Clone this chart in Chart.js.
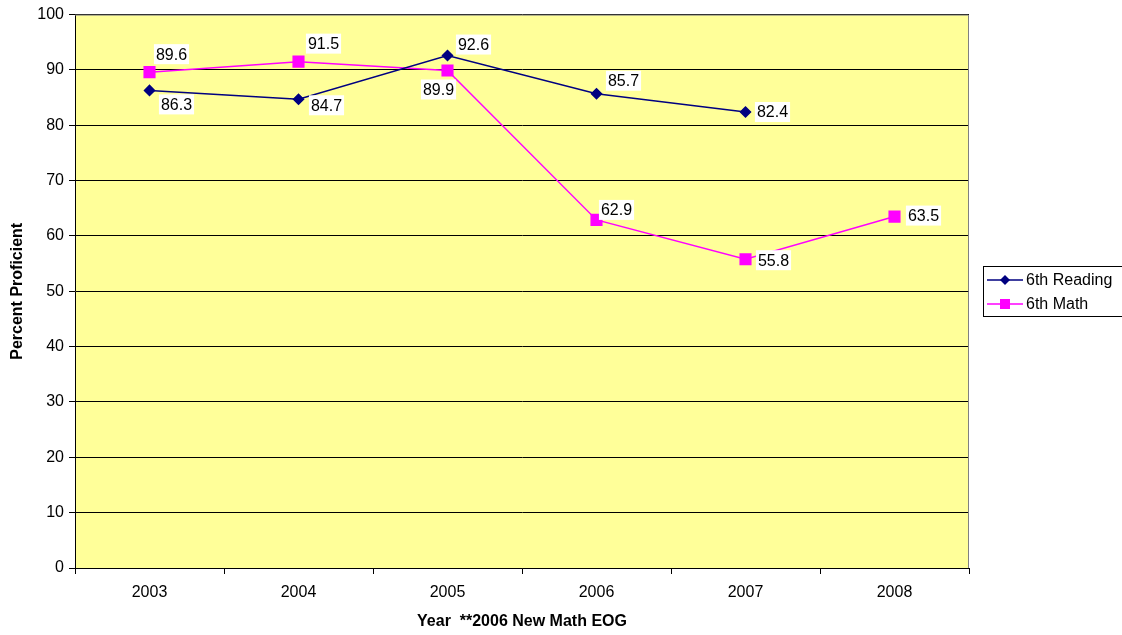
<!DOCTYPE html>
<html>
<head>
<meta charset="utf-8">
<script src="https://cdn.jsdelivr.net/npm/chart.js@4"></script>
<style>
  html, body { margin: 0; padding: 0; background: #fff; }
  #wrap { width: 1122px; height: 635px; }
</style>
</head>
<body>
<div id="wrap"><canvas id="myChart" width="1122" height="635"></canvas></div>
<script>
// chart data
const years = ['2003', '2004', '2005', '2006', '2007', '2008'];
const reading = [86.3, 84.7, 92.6, 85.7, 82.4, null];
const math = [89.6, 91.5, 89.9, 62.9, 55.8, 63.5];
const yTicks = [0, 10, 20, 30, 40, 50, 60, 70, 80, 90, 100];

// where each value label sits relative to its point (dx, dy)
const readingLabelPos = [[27, 14], [28, 6], [26, -11], [27, -13], [27, 0]];
const mathLabelPos = [[22, -18], [25, -18], [-9, 19], [20, -10], [28, 1], [29, -1]];

const font = '"Liberation Sans", Arial, sans-serif';

const plotBg = {
  id: 'plotBg',
  beforeDraw(chart) {
    const a = chart.chartArea;
    const ctx = chart.ctx;
    ctx.save();
    ctx.fillStyle = '#FFFF99';
    ctx.fillRect(a.left, a.top, a.right - a.left, a.bottom - a.top);
    ctx.restore();
  },
  afterDatasetsDraw(chart) {
    const a = chart.chartArea;
    const ctx = chart.ctx;
    ctx.save();
    // gray frame top/right
    ctx.strokeStyle = '#808080';
    ctx.lineWidth = 1;
    ctx.beginPath();
    ctx.moveTo(a.left, a.top + 0.5);
    ctx.lineTo(a.right - 0.5, a.top + 0.5);
    ctx.lineTo(a.right - 0.5, a.bottom);
    ctx.stroke();

    // value labels
    ctx.font = '16px ' + font;
    ctx.textAlign = 'center';
    ctx.textBaseline = 'middle';
    const positions = [readingLabelPos, mathLabelPos];
    chart.data.datasets.forEach((ds, i) => {
      const meta = chart.getDatasetMeta(i);
      meta.data.forEach((pt, j) => {
        const v = ds.data[j];
        if (v === null || v === undefined) return;
        const off = positions[i][j];
        const x = pt.x + off[0];
        const y = pt.y + off[1];
        const txt = v.toFixed(1);
        const w = ctx.measureText(txt).width;
        ctx.fillStyle = '#ffffff';
        ctx.fillRect(x - w / 2 - 2, y - 10, w + 4, 20);
        ctx.fillStyle = '#000000';
        ctx.fillText(txt, x, y + 1);
      });
    });

    // legend (box runs off the right edge like the original)
    const lx = 983, ly = 266, lw = 145, lh = 50;
    ctx.fillStyle = '#ffffff';
    ctx.fillRect(lx, ly, lw, lh);
    ctx.strokeStyle = '#000000';
    ctx.strokeRect(lx + 0.5, ly + 0.5, lw, lh);
    ctx.textAlign = 'left';
    ctx.font = '16px ' + font;
    chart.data.datasets.forEach((ds, i) => {
      const y = ly + 14 + i * 24;
      ctx.strokeStyle = ds.borderColor;
      ctx.lineWidth = 1.5;
      ctx.beginPath();
      ctx.moveTo(lx + 4, y);
      ctx.lineTo(lx + 40, y);
      ctx.stroke();
      ctx.fillStyle = ds.backgroundColor;
      const cx = lx + 22;
      if (ds.pointStyle === 'rectRot') {
        ctx.beginPath();
        ctx.moveTo(cx, y - 5);
        ctx.lineTo(cx + 5, y);
        ctx.lineTo(cx, y + 5);
        ctx.lineTo(cx - 5, y);
        ctx.closePath();
        ctx.fill();
      } else {
        ctx.fillRect(cx - 5, y - 5, 10, 10);
      }
      ctx.fillStyle = '#000000';
      ctx.fillText(ds.label, lx + 43, y + 1);
    });
    ctx.restore();
  }
};

const ctx = document.getElementById('myChart').getContext('2d');
const myChart = new Chart(ctx, {
  type: 'line',
  data: {
    labels: years,
    datasets: [{
      label: '6th Reading',
      data: reading,
      borderColor: '#000080',
      backgroundColor: '#000080',
      borderWidth: 1.5,
      pointStyle: 'rectRot',
      pointRadius: 5,
      pointHoverRadius: 5,
      tension: 0
    }, {
      label: '6th Math',
      data: math,
      borderColor: '#FF00FF',
      backgroundColor: '#FF00FF',
      borderWidth: 1.5,
      pointStyle: 'rect',
      pointRadius: 7.5,
      pointHoverRadius: 7.5,
      tension: 0
    }]
  },
  options: {
    responsive: false,
    animation: false,
    events: [],
    layout: { padding: { top: 14, right: 153, left: 0, bottom: 0 } },
    plugins: {
      legend: { display: false },
      tooltip: { enabled: false }
    },
    scales: {
      x: {
        offset: true,
        grid: {
          offset: true,
          drawOnChartArea: false,
          drawTicks: true,
          tickLength: 6,
          color: '#000000'
        },
        border: { color: '#000000', width: 1 },
        ticks: { color: '#000000', font: { size: 16, family: font }, padding: 9 },
        title: {
          display: true,
          text: 'Year  **2006 New Math EOG',
          color: '#000000',
          font: { size: 16, weight: 'bold', family: font },
          padding: { top: 2 }
        },
        afterFit(scale) { scale.height = 67; }
      },
      y: {
        min: 0,
        max: 100,
        afterBuildTicks(scale) { scale.ticks = yTicks.map(v => ({ value: v })); },
        grid: {
          color: '#000000',
          lineWidth: 1,
          drawTicks: true,
          tickLength: 6
        },
        border: { color: '#000000', width: 1 },
        ticks: { color: '#000000', font: { size: 16, family: font }, padding: 5 },
        title: {
          display: true,
          text: 'Percent Proficient',
          color: '#000000',
          font: { size: 16, weight: 'bold', family: font },
          padding: { top: 8, bottom: 12 }
        },
        afterFit(scale) { scale.width = 75; }
      }
    }
  },
  plugins: [plotBg]
});
</script>
</body>
</html>
